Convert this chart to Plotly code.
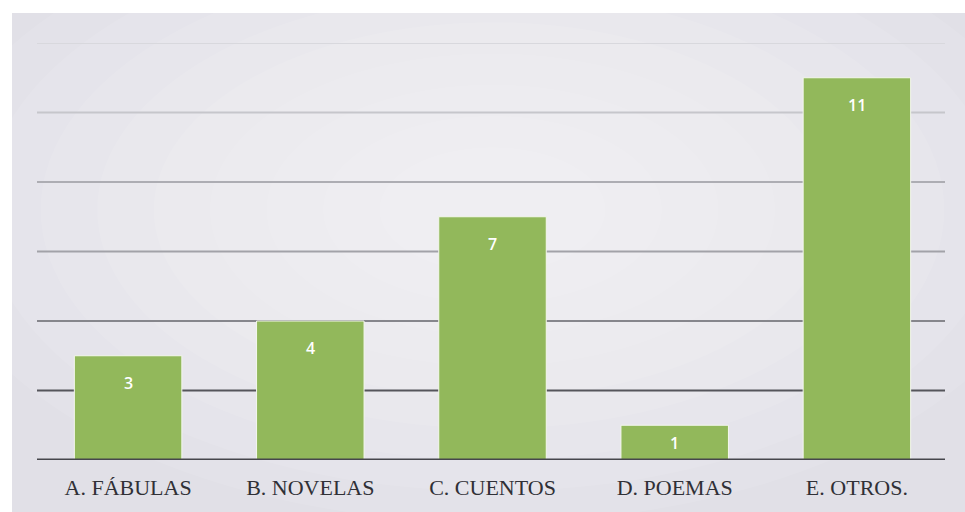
import plotly.graph_objects as go

categories = ["A. FÁBULAS", "B. NOVELAS", "C. CUENTOS", "D. POEMAS", "E. OTROS."]
values = [3, 4, 7, 1, 11]
grid_values = [2, 4, 6, 8, 10, 12]
grid_colors = ["#55555b", "#86868c", "#a2a2a8", "#adadb3", "#c6c6cb", "#d8d8dd"]

fig = go.Figure()
fig.add_trace(go.Bar(
    x=categories, y=values,
    marker=dict(color="#92b85b", line=dict(color="#f4f7ee", width=1)),
    width=0.59,
    hoverinfo="skip",
))

FW, FH = 965, 512
L, T = 37, 43
R, B = FW - 948, FH - 460
W, H = FW - L - R, FH - T - B

shapes = []
# gray background panel
shapes.append(dict(type="rect", xref="paper", yref="paper",
                   x0=(12 - L) / W, x1=(FW + 5 - L) / W,
                   y0=(460 - FH - 5) / H, y1=(460 - 13) / H,
                   fillcolor="#e1e0e7", line=dict(width=0), layer="below"))
# soft radial lightening
for i in range(9):
    s = 1 - i * 0.1
    cx, cy = 0.5, 0.6
    rx, ry = 0.62 * s, 0.75 * s
    shapes.append(dict(type="circle", xref="paper", yref="paper",
                       x0=cx - rx, x1=cx + rx, y0=cy - ry, y1=cy + ry,
                       fillcolor="white", opacity=0.09, line=dict(width=0), layer="below"))
# gridlines
for gv, gc in zip(grid_values, grid_colors):
    shapes.append(dict(type="line", xref="paper", yref="y", x0=0, x1=(945 - L) / W, y0=gv, y1=gv,
                       line=dict(color=gc, width=2), layer="below"))
# baseline
shapes.append(dict(type="line", xref="paper", yref="y", x0=0, x1=(945 - L) / W, y0=0, y1=0,
                   line=dict(color="#46464c", width=3), layer="above"))

annotations = []
for c, v in zip(categories, values):
    annotations.append(dict(x=c, y=max(v - 0.78, v / 2), xref="x", yref="y",
                            text=str(v), showarrow=False,
                            font=dict(family="Open Sans", size=16, color="white", weight=600),
                            yanchor="middle"))

fig.update_layout(
    width=FW, height=FH,
    margin=dict(l=L, r=R, t=T, b=B),
    paper_bgcolor="white",
    plot_bgcolor="rgba(0,0,0,0)",
    shapes=shapes,
    annotations=annotations,
    showlegend=False,
    bargap=0.41,
    xaxis=dict(showgrid=False, showline=False, zeroline=False, ticks="",
               tickfont=dict(family="Liberation Serif", size=22, color="#303036"),
               ticklabelstandoff=12),
    yaxis=dict(range=[0, 12], showgrid=False, zeroline=False, showline=False,
               showticklabels=False, ticks=""),
)

fig.write_html(
    "out.html",
    config={"displayModeBar": False},
    post_script="document.body.style.margin='0';document.body.style.overflow='hidden';",
)
